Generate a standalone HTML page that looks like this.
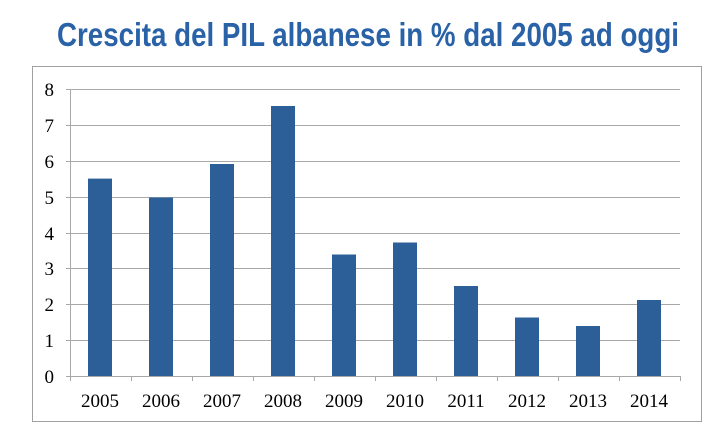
<!DOCTYPE html>
<html><head><meta charset="utf-8"><style>
body{margin:0;background:#fff;width:720px;height:426px;overflow:hidden}
</style></head><body>
<svg width="720" height="426" xmlns="http://www.w3.org/2000/svg">
<text x="368" y="46" text-anchor="middle" font-family="Liberation Sans, sans-serif" font-weight="bold" font-size="33" fill="#2a62a8" textLength="622" lengthAdjust="spacingAndGlyphs">Crescita del PIL albanese in % dal 2005 ad oggi</text>
<rect x="32.5" y="66.5" width="669" height="355" fill="none" stroke="#a0a0a0" stroke-width="1"/>
<g stroke="#a8a8a8" stroke-width="1">
<line x1="66" x2="680" y1="89.5" y2="89.5"/>
<line x1="66" x2="680" y1="125.5" y2="125.5"/>
<line x1="66" x2="680" y1="161.5" y2="161.5"/>
<line x1="66" x2="680" y1="197.5" y2="197.5"/>
<line x1="66" x2="680" y1="233.5" y2="233.5"/>
<line x1="66" x2="680" y1="268.5" y2="268.5"/>
<line x1="66" x2="680" y1="304.5" y2="304.5"/>
<line x1="66" x2="680" y1="340.5" y2="340.5"/>
<line x1="66" x2="680" y1="376.5" y2="376.5"/>
<line x1="70.5" x2="70.5" y1="89" y2="376"/>
<line x1="70.5" x2="70.5" y1="376" y2="381"/><line x1="131.5" x2="131.5" y1="376" y2="381"/><line x1="192.5" x2="192.5" y1="376" y2="381"/><line x1="253.5" x2="253.5" y1="376" y2="381"/><line x1="314.5" x2="314.5" y1="376" y2="381"/><line x1="375.5" x2="375.5" y1="376" y2="381"/><line x1="436.5" x2="436.5" y1="376" y2="381"/><line x1="497.5" x2="497.5" y1="376" y2="381"/><line x1="558.5" x2="558.5" y1="376" y2="381"/><line x1="619.5" x2="619.5" y1="376" y2="381"/><line x1="680.5" x2="680.5" y1="376" y2="381"/>
</g>
<g fill="#2c5f98">
<rect x="88" y="178.6" width="24" height="197.4"/>
<rect x="149" y="197.5" width="24" height="178.5"/>
<rect x="210" y="164" width="24" height="212"/>
<rect x="271" y="106" width="24" height="270"/>
<rect x="332" y="254.5" width="24" height="121.5"/>
<rect x="393" y="242.5" width="24" height="133.5"/>
<rect x="454" y="286" width="24" height="90"/>
<rect x="515" y="317.5" width="24" height="58.5"/>
<rect x="576" y="326" width="24" height="50"/>
<rect x="637" y="300" width="24" height="76"/>
</g>
<g font-family="Liberation Serif, serif" font-size="19" fill="#000" text-anchor="end">
<text x="54" y="96">8</text><text x="54" y="132">7</text><text x="54" y="168">6</text><text x="54" y="204">5</text><text x="54" y="240">4</text><text x="54" y="275">3</text><text x="54" y="311">2</text><text x="54" y="347">1</text><text x="54" y="383">0</text>
</g>
<g font-family="Liberation Serif, serif" font-size="19" fill="#000" text-anchor="middle">
<text x="100" y="407">2005</text><text x="161" y="407">2006</text><text x="222" y="407">2007</text><text x="283" y="407">2008</text><text x="344" y="407">2009</text><text x="405" y="407">2010</text><text x="466" y="407">2011</text><text x="527" y="407">2012</text><text x="588" y="407">2013</text><text x="649" y="407">2014</text>
</g>
</svg>
</body></html>
